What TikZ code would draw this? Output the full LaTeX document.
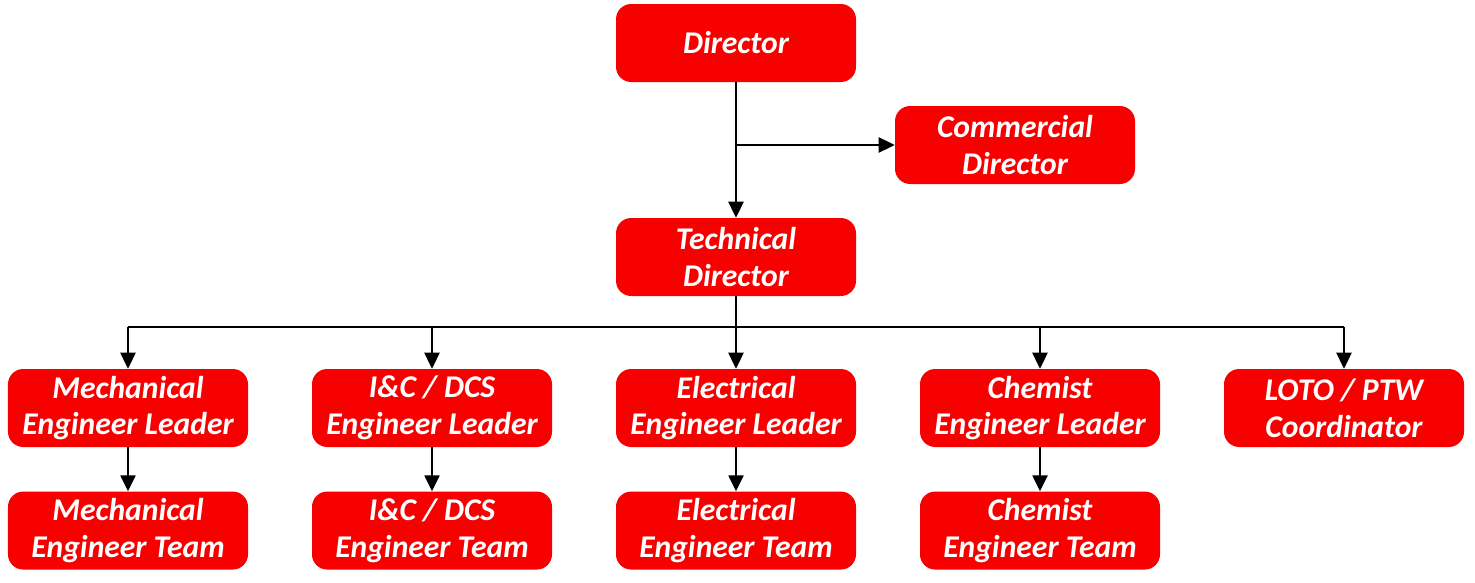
\documentclass[tikz,border=0pt]{standalone}
\usepackage{fontspec}
\setmainfont{Carlito}
\usepackage{tikz}
\usetikzlibrary{arrows.meta,positioning}
\definecolor{chartred}{RGB}{246,0,0}

\tikzset{
  orgbox/.style={rectangle, rounded corners=0.38cm, fill=chartred, text=white,
    minimum width=6cm, minimum height=1.95cm, align=center,
    font=\fontsize{22.5}{26}\selectfont\bfseries\itshape},
  link/.style={line width=1.3pt, -{Triangle[length=0.4cm,width=0.38cm]}},
  bus/.style={line width=1.3pt}
}

\begin{document}
\begin{tikzpicture}
\useasboundingbox (0,0) rectangle (36.875,-14.575);
% top
\node[orgbox] (dir) at (18.4,-1.075) {Director};
\node[orgbox] (com) at (25.375,-3.625) {Commercial\\Director};
\node[orgbox] (tech) at (18.4,-6.425) {Technical\\Director};
% leaders
\node[orgbox] (mechl) at (3.2,-10.2) {Mechanical\\Engineer Leader};
\node[orgbox] (icl) at (10.8,-10.2) {I\&C / DCS\\Engineer Leader};
\node[orgbox] (elel) at (18.4,-10.2) {Electrical\\Engineer Leader};
\node[orgbox] (chel) at (26.0,-10.2) {Chemist\\Engineer Leader};
\node[orgbox] (loto) at (33.6,-10.2) {LOTO / PTW\\Coordinator};
% teams
\node[orgbox, below=1.1cm of mechl] (mecht) {Mechanical\\Engineer Team};
\node[orgbox, below=1.1cm of icl] (ict) {I\&C / DCS\\Engineer Team};
\node[orgbox, below=1.1cm of elel] (elet) {Electrical\\Engineer Team};
\node[orgbox, below=1.1cm of chel] (chet) {Chemist\\Engineer Team};
% connectors
\coordinate (busc) at (18.4,-8.175);
\draw[link] (dir.south) -- (tech.north);
\draw[link] (dir.south |- com.west) -- (com.west);
\draw[bus] (mechl.north |- busc) -- (loto.north |- busc);
\draw[link] (tech.south) -- (elel.north);
\foreach \n in {mechl,icl,chel,loto}
  \draw[link] (\n.north |- busc) -- (\n.north);
\foreach \a/\b in {mechl/mecht,icl/ict,elel/elet,chel/chet}
  \draw[link] (\a.south) -- (\b.north);
\end{tikzpicture}
\end{document}
